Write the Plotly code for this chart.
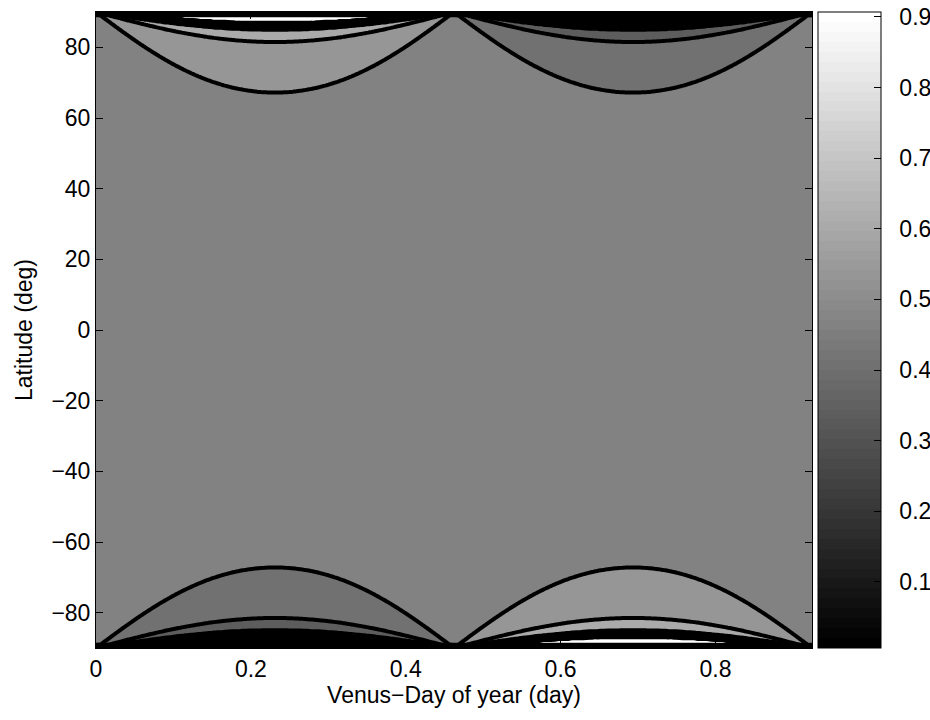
import numpy as np
import plotly.graph_objects as go

# Length of the Venus orbital year in (sidereal) Venus-days
YEAR_LEN = 0.9247

# Filled-contour levels of the day-lit fraction (symmetric about 0.5)
level_start = 0.005
level_step = 0.066
n_levels = 15

# Crest latitude (deg) of each contour arch on the sunlit side, for the
# levels above 0.5: 0.533, 0.599, 0.665, 0.731, 0.797, 0.863, 0.929
crest_lat = [67.2, 81.5, 85.0, 85.6, 86.1, 86.5, 86.8]
# latitude where the sunlit arch reaches full daylight
full_day_lat = 88.5

# Colour-axis range shown on the colour bar (64-step gray map)
c_min, c_max = 0.0064, 0.907
n_gray = 64

x_ticks = [0, 0.2, 0.4, 0.6, 0.8]
x_labels = ["0", "0.2", "0.4", "0.6", "0.8"]
y_ticks = [-80, -60, -40, -20, 0, 20, 40, 60, 80]
cbar_ticks = [0.1, 0.2, 0.3, 0.4, 0.5, 0.6, 0.7, 0.8, 0.9]

FONT = "Liberation Sans, Arial, Helvetica, sans-serif"
FS = 23

# ---- grid -------------------------------------------------------------
day = np.linspace(0, YEAR_LEN, 201)
lat = np.concatenate([[-90.0], np.arange(-89.0, 89.001, 0.25), [90.0]])
D, L = np.meshgrid(day, lat)

levels = level_start + level_step * np.arange(n_levels)
upper_levels = levels[levels > 0.5]

season = np.sin(2 * np.pi * D / YEAR_LEN)
inner = np.abs(L) < 90
tan_lat = np.where(inner, np.tan(np.radians(np.where(inner, np.abs(L), 0))), 0)
q = tan_lat * np.abs(season)

knot_q = np.concatenate([[0.0], np.tan(np.radians(crest_lat)),
                         [np.tan(np.radians(full_day_lat))]])
knot_f = np.concatenate([[0.5], upper_levels, [1.0]])
lit = np.interp(q, knot_q, knot_f)

sunlit = np.sign(L) * season >= 0
frac = np.where(sunlit, lit, 1.0 - lit)
frac[~inner] = 0.0

# ---- colours ----------------------------------------------------------
def gray_of(v):
    idx = int(np.floor((v - c_min) / (c_max - c_min) * n_gray))
    idx = min(max(idx, 0), n_gray - 1)
    g = round(255 * idx / (n_gray - 1))
    return f"rgb({g},{g},{g})"

# band j=0 lies below the first level, band k+1 lies above level k
band_colors = [gray_of(c_min)] + [gray_of(v) for v in levels]
fill_scale = [[j / n_levels, c] for j, c in enumerate(band_colors)]

bar_scale = []
for i in range(n_gray):
    g = round(255 * i / (n_gray - 1))
    c = f"rgb({g},{g},{g})"
    bar_scale.append([i / n_gray, c])
    bar_scale.append([(i + 1) / n_gray, c])

fig = go.Figure()
fig.add_trace(go.Contour(
    x=day, y=lat, z=frac,
    autocontour=False,
    contours=dict(start=levels[0], end=levels[-1], size=level_step,
                  coloring="fill", showlines=True),
    colorscale=fill_scale,
    line=dict(color="black", width=4, smoothing=1),
    showscale=False,
    hoverinfo="skip",
))

plot_l, plot_r = 96, 812
plot_w = plot_r - plot_l
NBSP = "\u00a0"
fig.add_trace(go.Scatter(
    x=[None], y=[None], mode="markers", showlegend=False, hoverinfo="skip",
    marker=dict(
        color=[c_min], cmin=c_min, cmax=c_max, colorscale=bar_scale,
        showscale=True,
        colorbar=dict(
            x=(818 - plot_l) / plot_w, xanchor="left", xpad=0, ypad=0,
            y=0.5, yanchor="middle", len=1, lenmode="fraction",
            thickness=63, thicknessmode="pixels",
            outlinewidth=1, outlinecolor="black",
            tickvals=cbar_ticks,
            ticktext=[NBSP * 2 + f"{t:.1f}" for t in cbar_ticks],
            ticks="inside", ticklen=7, tickcolor="black",
            tickfont=dict(family=FONT, size=FS, color="black"),
        ),
    ),
))

axis_common = dict(
    showline=True, linecolor="black", linewidth=1, mirror="ticks",
    ticks="inside", ticklen=7, tickcolor="black",
    showgrid=False, zeroline=False,
    tickfont=dict(family=FONT, size=FS, color="black"),
)

fig.update_layout(
    width=930, height=720,
    margin=dict(l=plot_l, r=930 - plot_r, t=12, b=72, autoexpand=False),
    paper_bgcolor="white", plot_bgcolor="white",
    font=dict(family=FONT, size=FS, color="black"),
    xaxis=dict(range=[0, YEAR_LEN], tickvals=x_ticks, ticktext=x_labels,
               automargin=False,
               title=dict(text="Venus\u2212Day of year (day)", standoff=2,
                          font=dict(family=FONT, size=FS, color="black")),
               **axis_common),
    yaxis=dict(range=[-90, 90], tickvals=y_ticks, automargin=False,
               title=dict(text="Latitude (deg)", standoff=12,
                          font=dict(family=FONT, size=FS, color="black")),
               **axis_common),
)

fig.write_html("out.html", config={"displayModeBar": False})
